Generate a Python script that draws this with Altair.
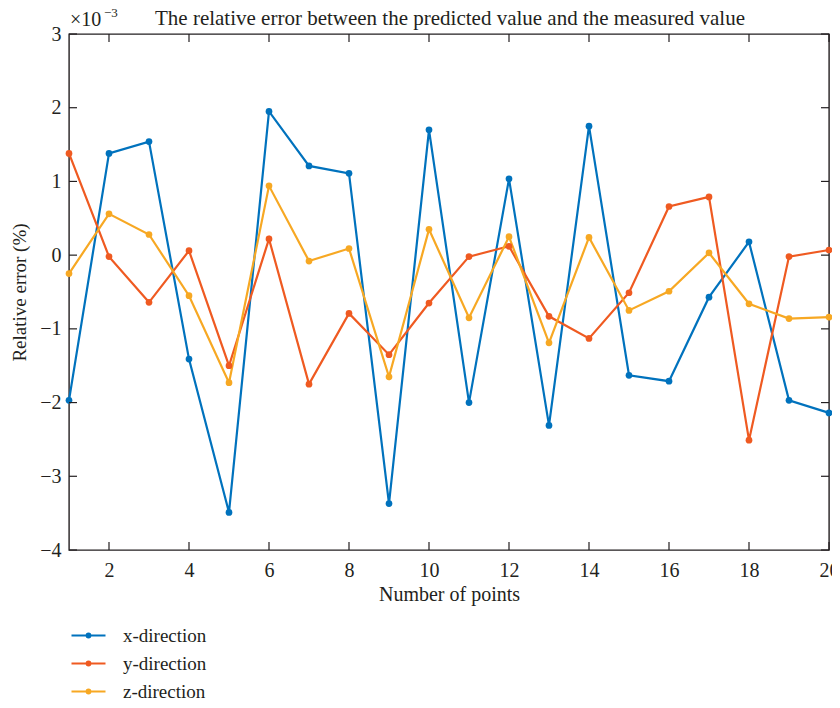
import altair as alt
import pandas as pd

points = list(range(1, 21))
x_dir = [-1.97, 1.38, 1.54, -1.41, -3.49, 1.95, 1.21, 1.11, -3.37, 1.70,
         -2.00, 1.035, -2.31, 1.75, -1.63, -1.71, -0.57, 0.18, -1.97, -2.14]
y_dir = [1.38, -0.02, -0.64, 0.06, -1.50, 0.22, -1.75, -0.79, -1.35, -0.65,
         -0.02, 0.12, -0.83, -1.13, -0.51, 0.66, 0.79, -2.51, -0.02, 0.07]
z_dir = [-0.25, 0.56, 0.28, -0.55, -1.73, 0.94, -0.08, 0.09, -1.65, 0.35,
         -0.85, 0.25, -1.19, 0.24, -0.75, -0.49, 0.03, -0.66, -0.86, -0.84]
series_names = ["x-direction", "y-direction", "z-direction"]
colors = ["#0072BD", "#EF5A21", "#F7A823"]
x_ticks = list(range(2, 21, 2))
y_ticks = list(range(-4, 4))
title_text = "The relative error between the predicted value and the measured value"

rows = []
for name, vals in zip(series_names, [x_dir, y_dir, z_dir]):
    for p, v in zip(points, vals):
        rows.append({"point": p, "value": v, "series": name})
df = pd.DataFrame(rows)
xt_df = pd.DataFrame({"point": x_ticks})
yt_df = pd.DataFrame({"value": y_ticks})

FONT = "Liberation Serif"
TXT = "#231F20"
W, H = 760, 516
TL = 8

xscale = alt.Scale(domain=[1, 20], nice=False, zero=False)
yscale = alt.Scale(domain=[-4, 3], nice=False, zero=False)

xaxis = alt.Axis(title="Number of points", values=x_ticks, orient="bottom",
                 ticks=False, tickSize=0, domain=False, grid=False, labelPadding=10,
                 labelFont=FONT, labelFontSize=20, labelColor=TXT,
                 titleFont=FONT, titleFontSize=20, titleFontWeight="normal", titleColor=TXT,
                 titlePadding=4, labelFlush=False, format="d")
yaxis = alt.Axis(title="Relative error (%)", values=y_ticks, orient="left",
                 ticks=False, tickSize=0, domain=False, grid=False, labelPadding=8,
                 labelFont=FONT, labelFontSize=20, labelColor=TXT,
                 titleFont=FONT, titleFontSize=19, titleFontWeight="normal", titleColor=TXT,
                 titlePadding=10, labelFlush=False, format="d")

legend_path = ("M-1.7,0L1.7,0M-0.18,0A0.18,0.18 0 1,0 0.18,0A0.18,0.18 0 1,0 -0.18,0Z")
legend = alt.Legend(orient="none", legendX=8, legendY=590, title=None,
                    symbolType=legend_path, symbolSize=400, symbolStrokeWidth=2.2,
                    labelFont=FONT, labelFontSize=19, labelColor=TXT,
                    labelOffset=23, rowPadding=6, symbolOpacity=1)

color = alt.Color("series:N", scale=alt.Scale(domain=series_names, range=colors), legend=legend)
X = alt.X("point:Q", scale=xscale, axis=xaxis)
Y = alt.Y("value:Q", scale=yscale, axis=yaxis)

base = alt.Chart(df)
lines = base.mark_line(strokeWidth=2.2).encode(x=X, y=Y, color=color)
pts = base.mark_point(filled=True, size=45, opacity=1).encode(x=X, y=Y, color=color)

tick_style = dict(color=TXT, thickness=1.2, size=TL, opacity=1)
bottom_ticks = alt.Chart(xt_df).mark_tick(orient="vertical", **tick_style).encode(
    x=X, y=alt.value(H - TL / 2))
top_ticks = alt.Chart(xt_df).mark_tick(orient="vertical", **tick_style).encode(
    x=X, y=alt.value(TL / 2))
left_ticks = alt.Chart(yt_df).mark_tick(orient="horizontal", **tick_style).encode(
    y=Y, x=alt.value(TL / 2))
right_ticks = alt.Chart(yt_df).mark_tick(orient="horizontal", **tick_style).encode(
    y=Y, x=alt.value(W - TL / 2))

txt_df = pd.DataFrame({"t": ["×10"], "s": ["−3"], "title": [title_text]})
exp_main = alt.Chart(txt_df).mark_text(font=FONT, fontSize=20, align="left",
                                       baseline="alphabetic", color=TXT).encode(
    text="t:N", x=alt.value(1), y=alt.value(-8))
exp_sup = alt.Chart(txt_df).mark_text(font=FONT, fontSize=13, align="left",
                                      baseline="alphabetic", color=TXT).encode(
    text="s:N", x=alt.value(35), y=alt.value(-17))
title_mark = alt.Chart(txt_df).mark_text(font=FONT, fontSize=21, align="center",
                                         baseline="alphabetic", color=TXT).encode(
    text="title:N", x=alt.value(381), y=alt.value(-9))

chart = alt.layer(
    lines, pts, bottom_ticks, top_ticks, left_ticks, right_ticks,
    exp_main, exp_sup, title_mark
).properties(
    width=W, height=H,
    background="white",
    autosize=alt.AutoSizeParams(type="none"),
    padding={"left": 61, "top": 26, "right": 3, "bottom": 150},
).configure_view(stroke=TXT, strokeWidth=1.4)

chart.save("out.html", embed_options={"renderer": "svg", "actions": False})
